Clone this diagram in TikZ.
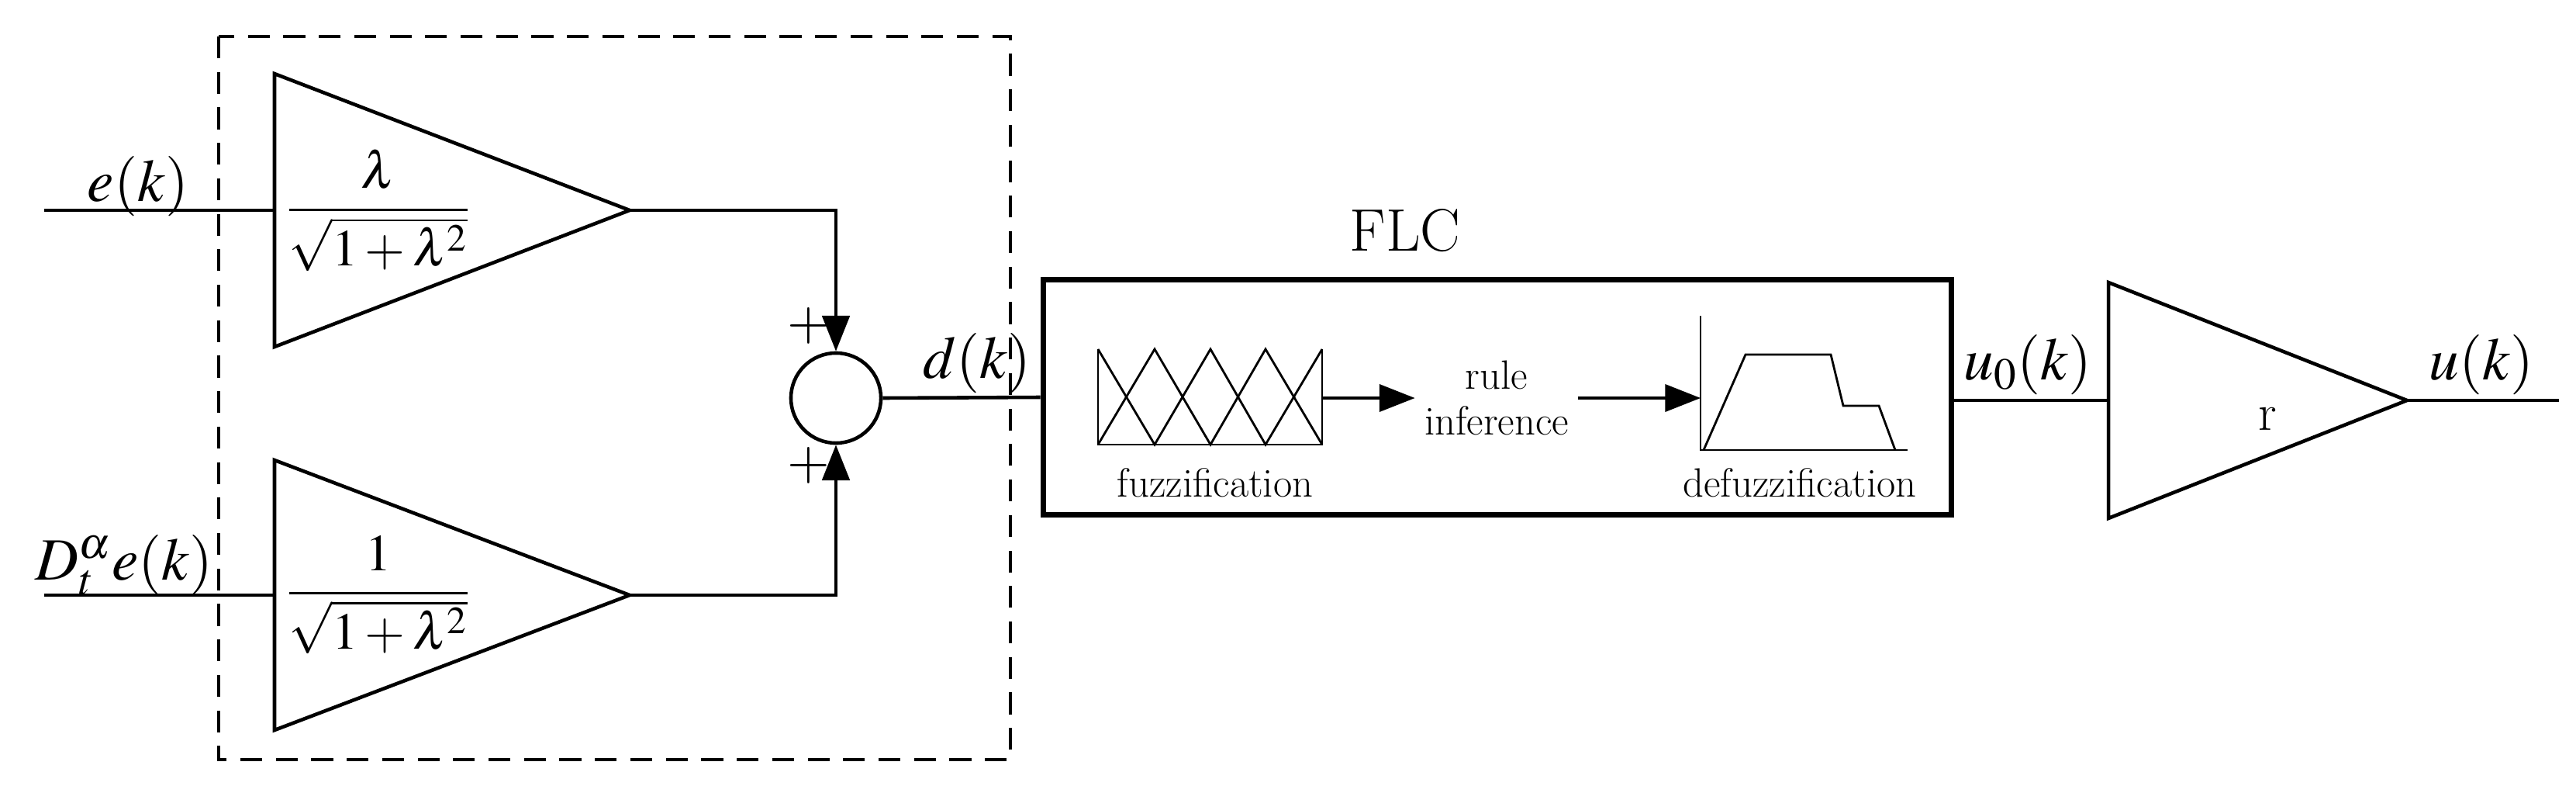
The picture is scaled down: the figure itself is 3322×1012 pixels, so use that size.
\documentclass[tikz,border=0pt]{standalone}
\usepackage{amsmath}
\usepackage[no-math]{fontspec}
\setmainfont{Carlito}
\usepackage{mathptmx}
\usetikzlibrary{arrows.meta}
\tikzset{
  wire/.style={line width=1.3pt},
  sig/.style={wire,-{Triangle[length=13pt,width=10pt]}},
  lbl/.style={font=\fontsize{22}{25}\selectfont},
  txt/.style={font=\fontsize{15}{17}\selectfont,align=center},
}
\begin{document}
\begin{tikzpicture}[x=0.01cm,y=-0.01cm]
            \useasboundingbox (0,0) rectangle (3322,1012);
            % dashed gain block
            \draw[wire,dash pattern=on 8pt off 5pt] (282,47) rectangle (1303,979);

            % gains
            \draw[wire] (354,95) -- (812,271) -- (354,447) -- cycle;
            \draw[wire] (354,593) -- (812,767) -- (354,941) -- cycle;
            \coordinate (g1in) at (354,271);
            \coordinate (g1out) at (812,271);
            \coordinate (g2in) at (354,767);
            \coordinate (g2out) at (812,767);
            \node at (488,271) {\fontsize{19}{22}\selectfont$\dfrac{\lambda}{\sqrt{1+\lambda^2}}$};
            \node at (488,767) {\fontsize{19}{22}\selectfont$\dfrac{1}{\sqrt{1+\lambda^2}}$};

            \coordinate (e) at (57,271);
            \coordinate (De) at (57,767);
            \draw[wire] (e) -- (g1in);
            \draw[wire] (De) -- (g2in);
            \node[lbl] at (178,240) {$e(k)$};
            \node[lbl] at (160,728) {$D_t^{\alpha}e(k)$};

            % sum
            \node[draw,wire,circle,minimum size=1.16cm,inner sep=0pt] (sum) at (1078,513) {};
            \draw[sig] (g1out) -| (sum.north);
            \draw[sig] (g2out) -| (sum.south);
            \node[font=\fontsize{20}{22}\selectfont] at (1043,420) {$+$};
            \node[font=\fontsize{20}{22}\selectfont] at (1043,600) {$+$};

            % FLC
            \node[draw,line width=2pt,minimum width=11.71cm,minimum height=3.03cm] (flc) at (1931,512) {};
            \node[lbl] at (1812,297) {FLC};
            \draw[wire] (sum.east) -- (flc.west);
            \node[lbl] at (1260,468) {$d(k)$};

            % fuzzification
            \draw[line width=0.8pt] (1416,450) -- (1416,573) -- (1705,573) -- (1705,450);
            \draw[line width=0.8pt] (1416,573) -- (1489,450) -- (1561,573) -- (1632,450) -- (1705,573);
            \draw[line width=0.8pt] (1416,450) -- (1489,573) -- (1561,450) -- (1632,573) -- (1705,450);
            \node[txt] at (1567,622) {fuzzification};
            \coordinate (fzout) at (1705,513);
            \node[txt] (rule) at (1930,513) {rule\\inference};
            \draw[sig,line width=0.9pt] (fzout) -- (rule.west);

            % defuzzification
            \draw[line width=0.8pt] (2193,407) -- (2193,580) -- (2460,580);
            \draw[line width=0.8pt] (2197,580) -- (2251,457) -- (2361,457) -- (2377,523) -- (2423,523) -- (2444,580);
            \coordinate (dfin) at (2193,513);
            \draw[sig,line width=0.9pt] (rule.east) -- (dfin);
            \node[txt] at (2321,622) {defuzzification};

            % output gain
            \draw[wire] (2719,364) -- (3104,516) -- (2719,668) -- cycle;
            \coordinate (rin) at (2719,516);
            \coordinate (rout) at (3104,516);
            \coordinate (u) at (3300,516);
            \node[font=\fontsize{19}{22}\selectfont] at (2924,540) {r};
            \draw[wire] (flc.east |- rin) -- (rin);
            \draw[wire] (rout) -- (u);
            \node[lbl] at (2615,470) {$u_0(k)$};
            \node[lbl] at (3200,470) {$u(k)$};
        \end{tikzpicture}
\end{document}
